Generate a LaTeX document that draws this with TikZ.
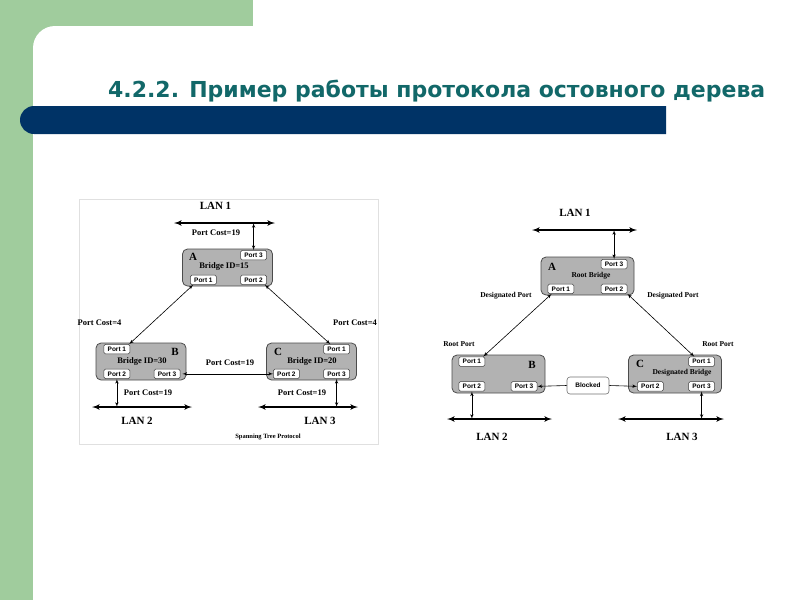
\documentclass[tikz,border=0pt]{standalone}
\usepackage{fontspec}
\setmainfont{Liberation Serif}
\setsansfont{Liberation Sans}
\newfontfamily\titlefont{DejaVu Sans}
\usetikzlibrary{positioning, arrows, shapes}

\definecolor{slidegreen}{RGB}{160,204,157}
\definecolor{slidenavy}{RGB}{0,51,102}
\definecolor{titleteal}{RGB}{18,104,105}
\definecolor{bridgegray}{RGB}{178,178,178}

\begin{document}
\begin{tikzpicture}[x=1pt, y=-1pt,
		bridge/.style={rectangle, draw=black!70, line width=0.8pt, fill=bridgegray, rounded corners=5pt, minimum width=90pt, minimum height=37pt},
		bigbridge/.style={bridge, minimum width=93pt, minimum height=38pt},
		port/.style={rectangle, draw=black!75, line width=0.6pt, fill=white, rounded corners=1.5pt, minimum width=26pt, minimum height=9.5pt, inner sep=0pt, font=\sffamily\bfseries\fontsize{6.5}{7}\selectfont},
		letter/.style={inner sep=0pt, font=\bfseries\fontsize{11}{12}\selectfont},
		cost/.style={inner sep=0pt, font=\bfseries\fontsize{8.5}{9}\selectfont},
		small/.style={inner sep=0pt, font=\bfseries\fontsize{7.5}{8}\selectfont},
		bridgeid/.style={inner sep=0pt, font=\bfseries\fontsize{8.5}{9}\selectfont},
		lanname/.style={inner sep=0pt, font=\bfseries\fontsize{11}{12}\selectfont},
		lan/.style={draw, line width=1.6pt, latex'-latex'},
		link/.style={draw, line width=0.6pt, latex'-latex'}]
	\useasboundingbox (0,0) rectangle (800,600);
	% slide background
	\fill[white] (0,0) rectangle (800,600);
	\fill[slidegreen] (0,0) rectangle (253,60);
	\fill[slidegreen] (0,0) rectangle (33,600);
	\fill[white] (33,600) -- (33,48) arc[start angle=180, end angle=270, radius=22] -- (253,26) -- (253,60) -- (800,60) -- (800,600) -- cycle;
	\fill[slidenavy] (666,106) -- (34,106) arc[start angle=270, end angle=90, radius=14] -- (666,134) -- cycle;
	\node (title) [anchor=base west, inner sep=0pt, text=titleteal, font=\titlefont\bfseries\fontsize{22}{24}\selectfont] at (108,97) {\resizebox{657pt}{\height}{4.2.2. Пример работы протокола остовного дерева}};

	% left picture
	\draw[black!12, line width=0.6pt] (79,199) rectangle (378,444);
	\node (lan1name) [lanname] at (215.5,206) {LAN 1};
	\coordinate (lan1w) at (174,223);
	\coordinate (lan1e) at (275,223);
	\path[lan] (lan1w) -- (lan1e);
	\node (abox) [bridge] at (227.5,267.5) {};
	\node (aport3) [port, below left=1.5pt and 6pt of abox.north east] {Port 3};
	\node (aport1) [port, above right=1.5pt and 8pt of abox.south west] {Port 1};
	\node (aport2) [port, above left=1.5pt and 6pt of abox.south east] {Port 2};
	\node (aname) [letter] at (193,257) {A};
	\node (aid) [bridgeid] at (224,266) {Bridge ID=15};
	\node (acost) [cost] at (216,233) {Port Cost=19};
	\path[link] (lan1w -| aport3.north) -- (aport3.north);

	\node (bbox) [bridge] at (141,361.5) {};
	\node (bport1) [port, below right=1.5pt and 8pt of bbox.north west] {Port 1};
	\node (bport2) [port, above right=1.5pt and 8pt of bbox.south west] {Port 2};
	\node (bport3) [port, above left=1.5pt and 6pt of bbox.south east] {Port 3};
	\node (bname) [letter] at (175,352) {B};
	\node (bid) [bridgeid] at (142,361) {Bridge ID=30};

	\node (cbox) [bridge] at (311.5,361.5) {};
	\node (cport1) [port, below left=1.5pt and 7pt of cbox.north east] {Port 1};
	\node (cport2) [port, above right=1.5pt and 7pt of cbox.south west] {Port 2};
	\node (cport3) [port, above left=1.5pt and 7pt of cbox.south east] {Port 3};
	\node (cname) [letter] at (278,352) {C};
	\node (cid) [bridgeid] at (312,361) {Bridge ID=20};

	\path[link] ([xshift=3pt]aport1.south west) -- ([xshift=-1pt]bport1.north east);
	\path[link] ([xshift=-2pt]aport2.south east) -- ([xshift=7pt]cport1.north west);
	\node (abcost) [cost] at (99.5,323) {Port Cost=4};
	\node (accost) [cost] at (355,323) {Port Cost=4};
	\path[link] ([xshift=2pt]bport3.east) -- (cport2.west);
	\node (bccost) [cost] at (230,363) {Port Cost=19};

	\coordinate (lan2w) at (92,407);
	\coordinate (lan2e) at (192,407);
	\path[lan] (lan2w) -- (lan2e);
	\path[link] (bport2.south) -- (lan2w -| bport2.south);
	\node (bcost) [cost] at (148,393) {Port Cost=19};
	\node (lan2name) [lanname] at (137,421) {LAN 2};
	\coordinate (lan3w) at (258,407);
	\coordinate (lan3e) at (358,407);
	\path[lan] (lan3w) -- (lan3e);
	\path[link] (cport3.south) -- (lan3w -| cport3.south);
	\node (ccost) [cost] at (302,393) {Port Cost=19};
	\node (lan3name) [lanname] at (320,421) {LAN 3};
	\node (caption) [inner sep=0pt, font=\bfseries\fontsize{6.5}{7}\selectfont] at (268,437) {Spanning Tree Protocol};

	% right picture
	\node (rlan1name) [lanname] at (575,213) {LAN 1};
	\coordinate (rlan1w) at (532,230);
	\coordinate (rlan1e) at (637,230);
	\path[lan] (rlan1w) -- (rlan1e);
	\node (rabox) [bigbridge] at (587.5,276) {};
	\node (raport3) [port, below left=2.5pt and 7pt of rabox.north east] {Port 3};
	\node (raport1) [port, above right=1.5pt and 7pt of rabox.south west] {Port 1};
	\node (raport2) [port, above left=1.5pt and 7pt of rabox.south east] {Port 2};
	\node (raname) [letter] at (552,267) {A};
	\node (raroot) [small] at (591,276) {Root Bridge};
	\path[link] (rlan1w -| raport3.north) -- (raport3.north);

	\node (rbbox) [bigbridge] at (498.5,374) {};
	\node (rbport1) [port, below right=2pt and 7pt of rbbox.north west] {Port 1};
	\node (rbport2) [port, above right=2pt and 7pt of rbbox.south west] {Port 2};
	\node (rbport3) [port, above left=2pt and 8pt of rbbox.south east] {Port 3};
	\node (rbname) [letter] at (532,365) {B};

	\node (rcbox) [bigbridge] at (675,374) {};
	\node (rcport1) [port, below left=2pt and 7pt of rcbox.north east] {Port 1};
	\node (rcport2) [port, above right=2pt and 9pt of rcbox.south west] {Port 2};
	\node (rcport3) [port, above left=2pt and 7pt of rcbox.south east] {Port 3};
	\node (rcname) [letter] at (640,364) {C};
	\node (rcdesig) [small] at (682,373) {Designated Bridge};

	\path[link] ([xshift=4pt]raport1.south west) -- ([xshift=-2pt]rbport1.north east);
	\path[link] (raport2.south east) -- ([xshift=6pt]rcport1.north west);
	\node (radesl) [small] at (506,296) {Designated Port};
	\node (radesr) [small] at (673,296) {Designated Port};
	\node (rbroot) [small] at (459,344) {Root Port};
	\node (rcroot) [small] at (718,344) {Root Port};

	\node (blocked) [rectangle, draw=black!55, line width=0.6pt, fill=white, rounded corners=3pt, minimum width=42pt, minimum height=17pt, inner sep=0pt, font=\sffamily\bfseries\fontsize{6.5}{7}\selectfont] at (588,385.5) {Blocked};
	\path[draw, line width=0.6pt, -latex'] (blocked.west) -- (rbport3.east);
	\path[draw, line width=0.6pt, -latex'] (blocked.east) -- (rcport2.west);

	\coordinate (rlan2w) at (447,419);
	\coordinate (rlan2e) at (552,419);
	\path[lan] (rlan2w) -- (rlan2e);
	\path[link] (rbport2.south) -- (rlan2w -| rbport2.south);
	\node (rlan2name) [lanname] at (492,437) {LAN 2};
	\coordinate (rlan3w) at (618,419);
	\coordinate (rlan3e) at (724,419);
	\path[lan] (rlan3w) -- (rlan3e);
	\path[link] (rcport3.south) -- (rlan3w -| rcport3.south);
	\node (rlan3name) [lanname] at (682,437) {LAN 3};
\end{tikzpicture}
\end{document}
